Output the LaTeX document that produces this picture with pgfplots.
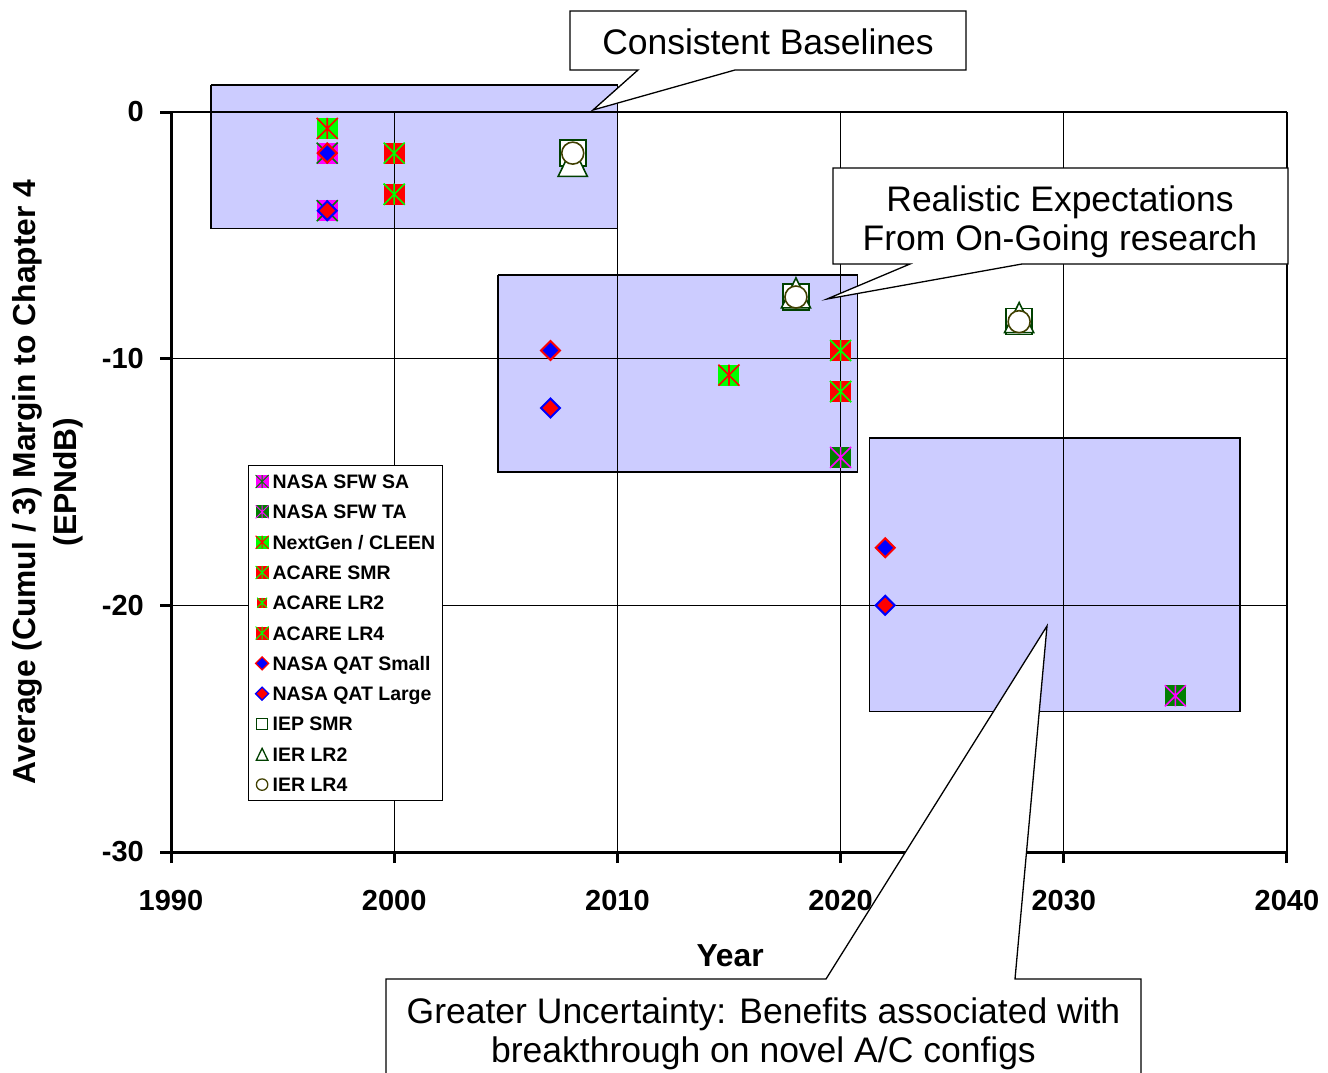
\documentclass[border=0pt]{standalone}
\usepackage{fontspec}
\setmainfont{Liberation Sans}
\usepackage{pgfplots}
\pgfplotsset{compat=1.18}

\definecolor{boxfill}{RGB}{204,204,255}
\definecolor{xlime}{RGB}{0,255,0}
\definecolor{xgreen}{RGB}{0,128,0}
\definecolor{xmagenta}{RGB}{255,0,255}
\definecolor{xred}{RGB}{255,0,0}
\definecolor{xblue}{RGB}{0,0,255}
\definecolor{iepgreen}{RGB}{0,64,0}
\definecolor{ierolive}{RGB}{64,64,0}

\newcommand\tickfont{\fontsize{29bp}{34bp}\selectfont\bfseries}
\newcommand\labfont{\fontsize{31.8bp}{41bp}\selectfont\bfseries}
\newcommand\legfont{\fontsize{19.5bp}{22bp}\selectfont\bfseries}
\newcommand\callfont{\fontsize{35.5bp}{39.5bp}\selectfont}

% filled square with an X and a vertical bar on top
\pgfdeclareplotmark{sqast}{%
  \pgfpathrectangle{\pgfqpoint{-\pgfplotmarksize}{-\pgfplotmarksize}}%
    {\pgfqpoint{2\pgfplotmarksize}{2\pgfplotmarksize}}%
  \pgfusepathqfill
  \pgfpathmoveto{\pgfqpoint{-\pgfplotmarksize}{-\pgfplotmarksize}}%
  \pgfpathlineto{\pgfqpoint{\pgfplotmarksize}{\pgfplotmarksize}}%
  \pgfpathmoveto{\pgfqpoint{-\pgfplotmarksize}{\pgfplotmarksize}}%
  \pgfpathlineto{\pgfqpoint{\pgfplotmarksize}{-\pgfplotmarksize}}%
  \pgfpathmoveto{\pgfqpoint{0pt}{-\pgfplotmarksize}}%
  \pgfpathlineto{\pgfqpoint{0pt}{\pgfplotmarksize}}%
  \pgfusepathqstroke
}
% triangle centred on its bounding box
\pgfdeclareplotmark{tri}{%
  \pgfpathmoveto{\pgfqpoint{0pt}{\pgfplotmarksize}}%
  \pgfpathlineto{\pgfqpoint{0.97\pgfplotmarksize}{-\pgfplotmarksize}}%
  \pgfpathlineto{\pgfqpoint{-0.97\pgfplotmarksize}{-\pgfplotmarksize}}%
  \pgfpathclose
  \pgfusepathqfillstroke
}

\pgfplotsset{
  astmark/.style 2 args={only marks, mark=sqast,
    mark options={fill=#1, draw=#2, line width=1.6bp}},
  diamk/.style 2 args={only marks, mark=square*,
    mark options={rotate=45, fill=#1, draw=#2, line width=2bp}},
  iepmk/.style={only marks, mark=square*,
    mark options={fill=white, draw=iepgreen, line width=1.6bp}},
  ier2mk/.style={only marks, mark=tri,
    mark options={fill=white, draw=iepgreen, line width=1.6bp}},
  ier4mk/.style={only marks, mark=*,
    mark options={fill=white, draw=ierolive, line width=1.6bp}},
  regionbox/.style={mark=none, fill=boxfill, draw=black, line width=1.3bp,
    forget plot, on layer=axis background},
  thinmark/.style={/tikz/every mark/.append style={line width=#1}},
}

\begin{document}
\begin{tikzpicture}

\begin{axis}[
  set layers,
  at={(171bp,-852bp)}, anchor=south west,
  scale only axis, width=1116bp, height=740bp,
  xmin=1990, xmax=2040, ymin=-30, ymax=0,
  clip=false,
  axis x line=bottom, axis y line=left,
  axis line style={line width=3bp, black, -},
  xtick={1990,2000,2010,2020,2030,2040},
  xticklabels={1990,2000,2010,2020,2030,2040},
  ytick={-30,-20,-10,0},
  yticklabels={-30,-20,-10,0},
  tick align=outside, major tick length=11bp,
  tick style={line width=3bp, black},
  grid=major, grid style={line width=1.2bp, black},
  ticklabel style={font=\tickfont, inner sep=0pt},
  xticklabel style={anchor=north, yshift=-27bp},
  yticklabel style={anchor=east, xshift=-16bp},
  xlabel={Year},
  xlabel style={font=\labfont, at={(axis description cs:0.501,0)},
    anchor=base, yshift=-114bp},
  ylabel={Average (Cumul / 3) Margin to Chapter 4\\(EPNdB)},
  ylabel style={font=\labfont, align=center,
    at={(axis description cs:-0.110,0.5)}, anchor=center},
  legend cell align=left,
  legend image code/.code={%
    \path[draw=none, fill=none] (0bp,-7bp) rectangle (12bp,7bp);
    \path[#1, draw=none, fill=none] plot coordinates {(6bp,0bp)};},
  legend style={at={(axis description cs:0.069,0.523)}, anchor=north west,
    draw=black, line width=1.2bp, fill=white, font=\legfont,
    inner xsep=7bp, inner ysep=6bp, row sep=10.3bp, column sep=4bp,
    nodes={inner sep=0pt, text height=17bp, text depth=3bp}},
]

% shaded regions
\addplot[regionbox] coordinates {(1991.79,1.09) (2010,1.09) (2010,-4.72) (1991.79,-4.72) (1991.79,1.09)};
\addplot[regionbox] coordinates {(2004.65,-6.61) (2020.75,-6.61) (2020.75,-14.59) (2004.65,-14.59) (2004.65,-6.61)};
\addplot[regionbox] coordinates {(2021.29,-13.22) (2037.9,-13.22) (2037.9,-24.31) (2021.29,-24.31) (2021.29,-13.22)};

% data
\addplot[astmark={xmagenta}{xgreen}, mark size=10.5bp, forget plot]
  coordinates {(1997,-1.667) (1997,-4)};
\addplot[astmark={xgreen}{xmagenta}, mark size=10.5bp, forget plot]
  coordinates {(2020,-14) (2035,-23.667)};
\addplot[astmark={xlime}{xred}, mark size=10.5bp, forget plot]
  coordinates {(1997,-0.667) (2015,-10.667)};
\addplot[astmark={xred}{xlime}, mark size=10.5bp, forget plot]
  coordinates {(2000,-1.667) (2020,-9.667)};
\addplot[astmark={xred}{xlime}, mark size=10.5bp, forget plot]
  coordinates {(2000,-3.333) (2020,-11.333)};
\addplot[astmark={xred}{xlime}, mark size=10.5bp, forget plot]
  coordinates {(2000,-3.333) (2020,-11.333)};
\addplot[diamk={xblue}{xred}, mark size=6.7bp, forget plot]
  coordinates {(1997,-1.667) (2007,-9.667) (2022,-17.667)};
\addplot[diamk={xred}{xblue}, mark size=6.7bp, forget plot]
  coordinates {(1997,-4) (2007,-12) (2022,-20)};
\addplot[iepmk, mark size=13bp, forget plot]
  coordinates {(2008,-1.667) (2018,-7.5) (2028,-8.5)};
\addplot[ier2mk, mark size=15bp, forget plot]
  coordinates {(2008,-2) (2018,-7.333) (2028,-8.333)};
\addplot[ier4mk, mark size=11bp, forget plot]
  coordinates {(2008,-1.667) (2018,-7.5) (2028,-8.5)};

% legend
\addlegendimage{astmark={xmagenta}{xgreen}, mark size=6.5bp, thinmark=1bp}
\addlegendentry{NASA SFW SA}
\addlegendimage{astmark={xgreen}{xmagenta}, mark size=6.5bp, thinmark=1bp}
\addlegendentry{NASA SFW TA}
\addlegendimage{astmark={xlime}{xred}, mark size=6.5bp, thinmark=1bp}
\addlegendentry{NextGen / CLEEN}
\addlegendimage{astmark={xred}{xlime}, mark size=6.5bp, thinmark=1bp}
\addlegendentry{ACARE SMR}
\addlegendimage{astmark={xred}{xlime}, mark size=5bp, thinmark=1bp}
\addlegendentry{ACARE LR2}
\addlegendimage{astmark={xred}{xlime}, mark size=6.5bp, thinmark=1bp}
\addlegendentry{ACARE LR4}
\addlegendimage{diamk={xblue}{xred}, mark size=4.6bp, thinmark=1.3bp}
\addlegendentry{NASA QAT Small}
\addlegendimage{diamk={xred}{xblue}, mark size=4.6bp, thinmark=1.3bp}
\addlegendentry{NASA QAT Large}
\addlegendimage{iepmk, mark size=5.7bp, thinmark=1.3bp}
\addlegendentry{IEP SMR}
\addlegendimage{ier2mk, mark size=6bp, thinmark=1.3bp}
\addlegendentry{IER LR2}
\addlegendimage{ier4mk, mark size=5.7bp, thinmark=1.3bp}
\addlegendentry{IER LR4}
\end{axis}

% callouts (page coordinates, 1px = 1bp)
\draw[line width=1.3bp, fill=white]
  (570bp,-11bp) -- (966bp,-11bp) -- (966bp,-70bp) -- (735bp,-70bp)
  -- (593bp,-110bp) -- (638bp,-70bp) -- (570bp,-70bp) -- cycle;
\node[font=\callfont, anchor=base, inner sep=0pt] at (768bp,-54bp) {Consistent Baselines};

\draw[line width=1.3bp, fill=white]
  (833bp,-168bp) -- (1288bp,-168bp) -- (1288bp,-264bp) -- (1022bp,-264bp)
  -- (827bp,-299bp) -- (910bp,-264bp) -- (833bp,-264bp) -- cycle;
\node[font=\callfont, anchor=base, inner sep=0pt] at (1060bp,-211bp) {Realistic Expectations};
\node[font=\callfont, anchor=base, inner sep=0pt] at (1060bp,-250bp) {From On-Going research};

\draw[line width=1.3bp, fill=white]
  (386bp,-979bp) -- (826bp,-979bp) -- (1047bp,-626bp) -- (1015bp,-979bp)
  -- (1141bp,-979bp) -- (1141bp,-1110bp) -- (386bp,-1110bp) -- cycle;
\node[font=\callfont, anchor=base, inner sep=0pt] at (763.5bp,-1023bp) {Greater Uncertainty: Benefits associated with};
\node[font=\callfont, anchor=base, inner sep=0pt] at (763.5bp,-1062bp) {breakthrough on novel A/C configs};

\pgfresetboundingbox
\useasboundingbox (0,0) rectangle (1328bp,-1073bp);
\end{tikzpicture}
\end{document}
